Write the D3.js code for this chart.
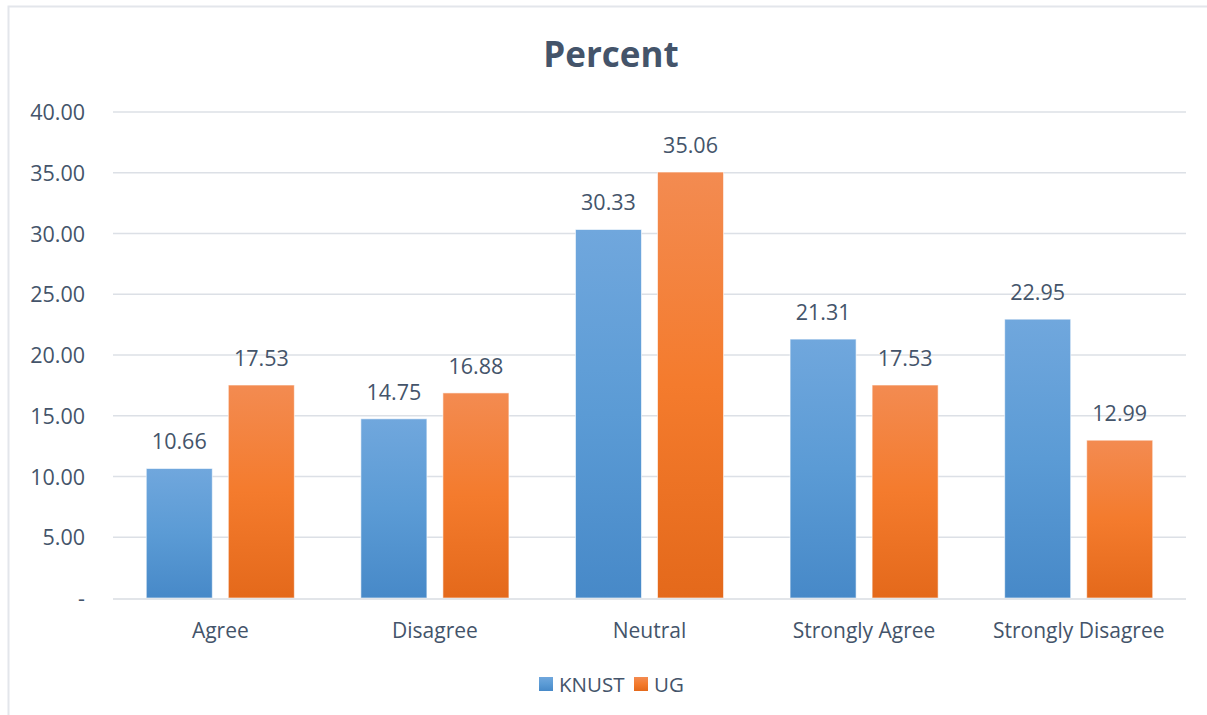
<!DOCTYPE html>
<html><head><meta charset="utf-8">
<script src="https://cdn.jsdelivr.net/npm/d3@7"></script>
<style>
html,body{margin:0;padding:0;background:#fff;}
svg{display:block;font-family:"Open Sans","Lato",sans-serif;}
</style></head>
<body><svg id="c" width="1207" height="715"></svg>
<script>
const categories = ["Agree","Disagree","Neutral","Strongly Agree","Strongly Disagree"];
const seriesNames = ["KNUST","UG"];
const knust = [10.66,14.75,30.33,21.31,22.95];
const ug = [17.53,16.88,35.06,17.53,12.99];
const yTicks = [0,5,10,15,20,25,30,35,40];
const tickLabels = ["-","5.00","10.00","15.00","20.00","25.00","30.00","35.00","40.00"];

const svg = d3.select("#c");
const W=1207,H=715;
const m={left:113,right:1186,top:112,bottom:598};
const textCol="#44546A";
const fs=21.5;

const defs = svg.append("defs");
const grads = [
  {id:"gb", stops:["#70A7DD","#5B9BD5","#4789C8"]},
  {id:"go", stops:["#F38B51","#F47B2D","#E4691B"]}
];
grads.forEach(g=>{
  const lg=defs.append("linearGradient").attr("id",g.id).attr("x1",0).attr("y1",0).attr("x2",0).attr("y2",1);
  lg.append("stop").attr("offset","0%").attr("stop-color",g.stops[0]);
  lg.append("stop").attr("offset","50%").attr("stop-color",g.stops[1]);
  lg.append("stop").attr("offset","100%").attr("stop-color",g.stops[2]);
});

// chart border
svg.append("rect").attr("x",8.5).attr("y",6.5).attr("width",W+10).attr("height",H+10)
  .attr("fill","none").attr("stroke","#E3E6EB").attr("stroke-width",2);

const x0=d3.scaleBand().domain(categories).range([m.left,m.right]).paddingInner(0.31).paddingOuter(0.155);
const x1=d3.scaleBand().domain(seriesNames).range([0,x0.bandwidth()]).paddingInner(0.195);
const y=d3.scaleLinear().domain([0,40]).range([m.bottom,m.top]);

// gridlines
svg.append("g").selectAll("line").data(yTicks.filter(d=>d>0)).join("line")
  .attr("x1",m.left).attr("x2",m.right).attr("y1",d=>y(d)).attr("y2",d=>y(d))
  .attr("stroke","#DCE0E6").attr("stroke-width",1.5);

// y axis labels
const yAxis=d3.axisLeft(y).tickValues(yTicks).tickFormat((d,i)=>tickLabels[i]).tickSize(0).tickPadding(0);
const ya=svg.append("g").attr("transform",`translate(85,0)`).call(yAxis);
ya.select(".domain").remove();
ya.selectAll("text").attr("font-size",fs).attr("fill",textCol).attr("font-family","Open Sans")
  .attr("dy","0.35em");

// bars
const data=categories.map((c,i)=>({cat:c,vals:[{s:"KNUST",v:knust[i]},{s:"UG",v:ug[i]}]}));
const g=svg.append("g").selectAll("g").data(data).join("g").attr("transform",d=>`translate(${x0(d.cat)},0)`);
g.selectAll("rect").data(d=>d.vals).join("rect")
  .attr("x",d=>x1(d.s)).attr("width",x1.bandwidth())
  .attr("y",d=>y(d.v)).attr("height",d=>y(0)-y(d.v))
  .attr("fill",d=>d.s==="KNUST"?"url(#gb)":"url(#go)")
  .attr("stroke","#fff").attr("stroke-opacity",0.6).attr("stroke-width",1);
g.selectAll("text").data(d=>d.vals).join("text")
  .attr("x",d=>x1(d.s)+x1.bandwidth()/2).attr("y",d=>y(d.v)-19)
  .attr("text-anchor","middle").attr("font-size",fs).attr("fill",textCol)
  .text(d=>d.v.toFixed(2));

// baseline
svg.append("line").attr("x1",m.left).attr("x2",m.right).attr("y1",y(0)+1).attr("y2",y(0)+1)
  .attr("stroke","#D9DCE2").attr("stroke-width",1.5);

// x axis labels
const xa=svg.append("g").attr("transform",`translate(0,${m.bottom})`)
  .call(d3.axisBottom(x0).tickSize(0).tickPadding(0));
xa.select(".domain").remove();
xa.selectAll("text").attr("font-size",21).attr("fill",textCol).attr("font-family","Open Sans")
  .attr("y",40).attr("dy",0);

// title
svg.append("text").attr("x",611).attr("y",67).attr("text-anchor","middle")
  .attr("font-size",35).attr("font-weight","bold").attr("fill",textCol).text("Percent");

// legend
const legX=[539,634];
const legCols=["url(#gb)","url(#go)"];
const lg=svg.append("g").selectAll("g").data(seriesNames).join("g")
  .attr("transform",(d,i)=>`translate(${legX[i]},677)`);
lg.append("rect").attr("width",14).attr("height",14).attr("fill",(d,i)=>legCols[i]);
lg.append("text").attr("x",20).attr("y",15).attr("font-size",fs-1).attr("fill",textCol).text(d=>d);
</script></body></html>
